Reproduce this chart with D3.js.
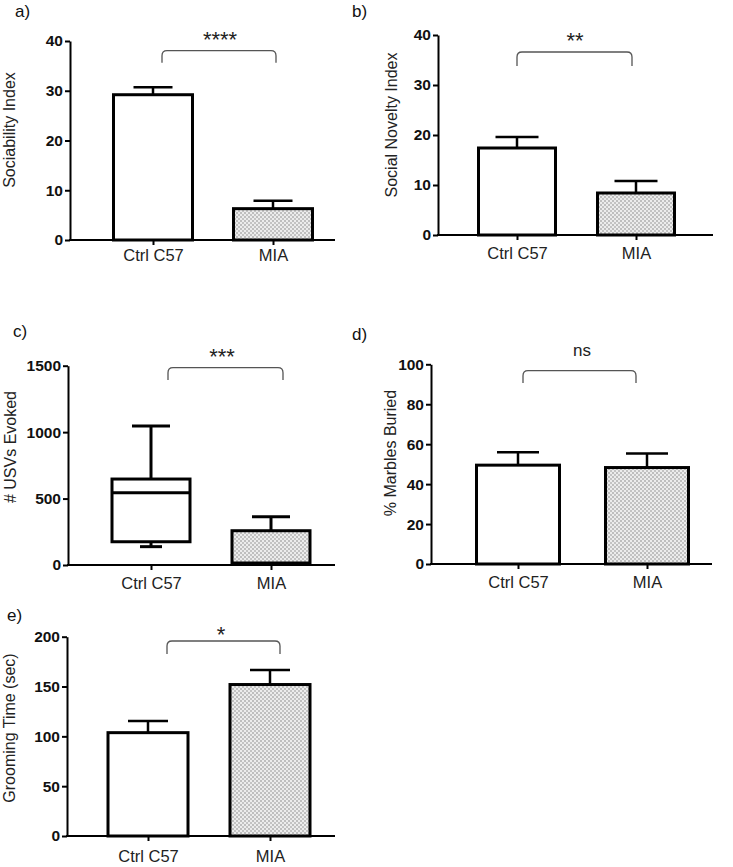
<!DOCTYPE html>
<html>
<head>
<meta charset="utf-8">
<script src="https://cdn.jsdelivr.net/npm/d3@7"></script>
<style>
  html, body { margin: 0; padding: 0; background: #fff; }
  svg { display: block; font-family: Arial, "Liberation Sans", sans-serif; }
</style>
</head>
<body>
<svg id="chart" width="733" height="867"></svg>
<script>
// ---------------- DATA ----------------
const categories = ["Ctrl C57", "MIA"];

// a) Sociability Index (mean, SEM)
const sociabilityMean = [29.2, 6.3];
const sociabilitySem  = [1.5, 1.6];
const sociabilityTicks = [0, 10, 20, 30, 40];

// b) Social Novelty Index
const noveltyMean = [17.4, 8.4];
const noveltySem  = [2.2, 2.4];
const noveltyTicks = [0, 10, 20, 30, 40];

// c) # USVs Evoked (box plot: min, q1, median, q3, max)
const usvMin    = [138, 0];
const usvQ1     = [175, 10];
const usvMedian = [544, 15];
const usvQ3     = [647, 258];
const usvMax    = [1047, 363];
const usvTicks  = [0, 500, 1000, 1500];

// d) % Marbles Buried
const marblesMean = [49.5, 48.3];
const marblesSem  = [6.5, 7.0];
const marblesTicks = [0, 20, 40, 60, 80, 100];

// e) Grooming Time (sec)
const groomMean = [103.7, 152];
const groomSem  = [11.6, 14.7];
const groomTicks = [0, 50, 100, 150, 200];

const significance = ["****", "**", "***", "ns", "*"];
const panelLetters = ["a)", "b)", "c)", "d)", "e)"];
const yTitles = ["Sociability Index", "Social Novelty Index", "# USVs Evoked", "% Marbles Buried", "Grooming Time (sec)"];

// ---------------- LAYOUT ----------------
const svg = d3.select("#chart");
const defs = svg.append("defs");
const pat = defs.append("pattern").attr("id", "dots")
  .attr("width", 4).attr("height", 4).attr("patternUnits", "userSpaceOnUse");
pat.append("rect").attr("width", 4).attr("height", 4).attr("fill", "#ececec");
pat.append("circle").attr("cx", 1).attr("cy", 1).attr("r", 0.7).attr("fill", "#6e6e6e");
pat.append("circle").attr("cx", 3).attr("cy", 3).attr("r", 0.7).attr("fill", "#7a7a7a");

const fills = ["#ffffff", "url(#dots)"];

const panels = [
  { type: "bar", mean: sociabilityMean, sem: sociabilitySem, ticks: sociabilityTicks,
    ax: 70, axEnd: 335, y0: 240, y1: 41, cx: [153, 273], bw: 79, capW: 39, labPad: 4,
    letter: [15, 17], titleX: 15, titleY: 130,
    br: [162, 276, 50.7, 62.7], sig: [220, 46.5] },
  { type: "bar", mean: noveltyMean, sem: noveltySem, ticks: noveltyTicks,
    ax: 438, axEnd: 713, y0: 235, y1: 35, cx: [517, 636], bw: 77, capW: 43, labPad: 7,
    letter: [352, 17], titleX: 397, titleY: 125,
    br: [517, 632, 52, 66], sig: [575, 48] },
  { type: "box", ticks: usvTicks,
    ax: 68, axEnd: 335, y0: 565, y1: 365.7, cx: [151, 271], bw: 78, capW: 38, capWLow: 22, labPad: 7,
    letter: [13, 337], titleX: 16, titleY: 447,
    br: [168, 283, 367.7, 380], sig: [222, 364] },
  { type: "bar", mean: marblesMean, sem: marblesSem, ticks: marblesTicks,
    ax: 431, axEnd: 712, y0: 564, y1: 364.3, cx: [518, 647], bw: 83, capW: 42, labPad: 7,
    letter: [352, 340], titleX: 396, titleY: 453,
    br: [523, 636, 370.7, 383], sig: [582, 356], sigSize: 17 },
  { type: "bar", mean: groomMean, sem: groomSem, ticks: groomTicks,
    ax: 67, axEnd: 335, y0: 836, y1: 636.7, cx: [148, 270], bw: 80, capW: 40, labPad: 9,
    letter: [7, 621], titleX: 15, titleY: 728,
    br: [167, 280, 641, 654], sig: [221, 642] }
];

panels.forEach((p, i) => {
  const g = svg.append("g");
  const y = d3.scaleLinear().domain([0, d3.max(p.ticks)]).range([p.y0, p.y1]);
  const x = d3.scalePoint().domain(categories).range(p.cx);

  // panel letter
  g.append("text").attr("x", p.letter[0]).attr("y", p.letter[1])
    .attr("font-size", 17).attr("fill", "#111").text(panelLetters[i]);

  // y title
  g.append("text")
    .attr("transform", `translate(${p.titleX},${p.titleY}) rotate(-90)`)
    .attr("text-anchor", "middle").attr("font-size", 16).attr("fill", "#222")
    .text(yTitles[i]);

  // marks
  if (p.type === "bar") {
    categories.forEach((c, k) => {
      const cx = x(c);
      const top = y(p.mean[k]);
      const errTop = y(p.mean[k] + p.sem[k]);
      g.append("line").attr("x1", cx).attr("x2", cx).attr("y1", top).attr("y2", errTop)
        .attr("stroke", "#000").attr("stroke-width", 2.5);
      g.append("line").attr("x1", cx - p.capW / 2).attr("x2", cx + p.capW / 2)
        .attr("y1", errTop).attr("y2", errTop)
        .attr("stroke", "#000").attr("stroke-width", 2.5);
      g.append("rect").attr("x", cx - p.bw / 2).attr("y", top)
        .attr("width", p.bw).attr("height", p.y0 - top)
        .attr("fill", fills[k]).attr("stroke", "#000").attr("stroke-width", 3);
    });
  } else {
    categories.forEach((c, k) => {
      const cx = x(c);
      g.append("line").attr("x1", cx).attr("x2", cx).attr("y1", y(usvQ3[k])).attr("y2", y(usvMax[k]))
        .attr("stroke", "#000").attr("stroke-width", 3);
      g.append("line").attr("x1", cx - p.capW / 2).attr("x2", cx + p.capW / 2)
        .attr("y1", y(usvMax[k])).attr("y2", y(usvMax[k]))
        .attr("stroke", "#000").attr("stroke-width", 3);
      if (usvMin[k] < usvQ1[k] && y(usvMin[k]) < p.y0 - 2) {
        g.append("line").attr("x1", cx).attr("x2", cx).attr("y1", y(usvQ1[k])).attr("y2", y(usvMin[k]))
          .attr("stroke", "#000").attr("stroke-width", 3);
        g.append("line").attr("x1", cx - p.capWLow / 2).attr("x2", cx + p.capWLow / 2)
          .attr("y1", y(usvMin[k])).attr("y2", y(usvMin[k]))
          .attr("stroke", "#000").attr("stroke-width", 3);
      }
      g.append("rect").attr("x", cx - p.bw / 2).attr("y", y(usvQ3[k]))
        .attr("width", p.bw).attr("height", y(usvQ1[k]) - y(usvQ3[k]))
        .attr("fill", fills[k]).attr("stroke", "#000").attr("stroke-width", 3);
      g.append("line").attr("x1", cx - p.bw / 2).attr("x2", cx + p.bw / 2)
        .attr("y1", y(usvMedian[k])).attr("y2", y(usvMedian[k]))
        .attr("stroke", "#000").attr("stroke-width", 3);
    });
  }

  // y axis
  const yAxis = g.append("g").attr("transform", `translate(${p.ax},0)`)
    .call(d3.axisLeft(y).tickValues(p.ticks).tickSize(5).tickSizeOuter(0).tickPadding(2)
      .tickFormat(d3.format("d")));
  yAxis.select(".domain").attr("stroke", "#000").attr("stroke-width", 2);
  yAxis.selectAll(".tick line").attr("stroke", "#000").attr("stroke-width", 2);
  yAxis.selectAll(".tick text").attr("font-size", 15.5).attr("font-weight", "bold")
    .attr("fill", "#111").attr("font-family", "Arial, 'Liberation Sans', sans-serif");

  // x axis
  const xAxis = g.append("g").attr("transform", `translate(0,${p.y0})`)
    .call(d3.axisBottom(x).tickSize(5).tickPadding(p.labPad));
  xAxis.select(".domain").remove();
  xAxis.selectAll(".tick line").attr("stroke", "#000").attr("stroke-width", 2);
  xAxis.selectAll(".tick text").attr("font-size", 16.5).attr("fill", "#222")
    .attr("font-family", "Arial, 'Liberation Sans', sans-serif");
  g.append("line").attr("x1", p.ax - 1).attr("x2", p.axEnd)
    .attr("y1", p.y0).attr("y2", p.y0).attr("stroke", "#000").attr("stroke-width", 2);

  // significance bracket
  const [bx0, bx1, by, bend] = p.br;
  const r = 5;
  g.append("path")
    .attr("d", `M${bx0},${bend} L${bx0},${by + r} Q${bx0},${by} ${bx0 + r},${by} L${bx1 - r},${by} Q${bx1},${by} ${bx1},${by + r} L${bx1},${bend}`)
    .attr("fill", "none").attr("stroke", "#555").attr("stroke-width", 1.3);
  g.append("text").attr("x", p.sig[0]).attr("y", p.sig[1])
    .attr("text-anchor", "middle").attr("font-size", p.sigSize || 22).attr("fill", "#222")
    .text(significance[i]);
});
</script>
</body>
</html>
